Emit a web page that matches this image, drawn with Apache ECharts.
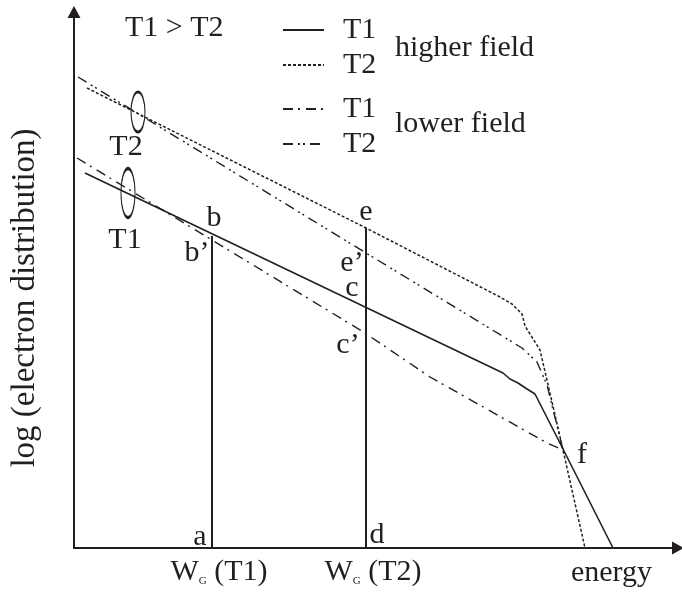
<!DOCTYPE html>
<html>
<head>
<meta charset="utf-8">
<script src="https://cdn.jsdelivr.net/npm/echarts@6/dist/echarts.min.js"></script>
<style>
  html, body { margin: 0; padding: 0; background: #fff; }
  #chart { width: 682px; height: 601px; }
</style>
</head>
<body>
<div id="chart"></div>
<script>
// curves (x = energy, y = log distribution, arbitrary units)
const t1High = [[11, 375], [429, 175], [436, 169], [444, 165], [453, 159], [461, 154], [489, 99], [539, 0]];
const t2High = [[13, 460], [292, 320], [426, 251], [438, 244], [448, 234], [451, 222], [466, 198], [473, 168], [489, 98], [511, 0]];
const t1Low = [[3, 390], [291, 215], [356, 171], [473, 105], [489, 98]];
const t2Low = [[4, 471], [292, 295], [448, 200], [463, 186], [473, 163], [489, 98]];

// W_G marks on the energy axis and their heights
const wgTicks = [138, 292];
const wgNames = ['T1', 'T2'];
const wgTops = [312, 320];

// ellipse centres (T2 group, T1 group)
const ellipseCenters = [[64, 436], [54, 355]];

// point letters and group labels
const pointLabels = [
  ['b', 140, 330], ['b\u2019', 123, 295], ['e', 292, 336], ['e\u2019', 278, 285],
  ['c', 278, 260], ['c\u2019', 274, 203], ['f', 508, 93], ['a', 126, 11],
  ['d', 303, 13], ['T2', 52, 401], ['T1', 51, 308]
];

const ink = '#231f20';
const serif = 'Liberation Serif';
const fs = 30;

const chart = echarts.init(document.getElementById('chart'));

const wgLines = wgTicks.map((x, i) => ({
  type: 'line',
  data: [[x, 0], [x, wgTops[i]]],
  symbol: 'none',
  silent: true,
  lineStyle: { color: ink, width: 2 }
}));

const legendBase = {
  orient: 'vertical', left: 282, padding: 0,
  itemWidth: 41, itemHeight: 14,
  formatter: n => n.split(' ')[0],
  itemStyle: { color: 'rgba(0,0,0,0)', borderColor: 'rgba(0,0,0,0)', borderWidth: 0 },
  textStyle: { fontFamily: serif, fontSize: fs, color: ink, padding: [0, 0, 0, 14] },
  selectedMode: false
};

chart.setOption({
  animation: false,
  grid: { left: 74, right: 4, top: 12, bottom: 53, outerBoundsMode: 'none', containLabel: false },
  xAxis: {
    type: 'value', min: 0, max: 604,
    splitLine: { show: false },
    axisTick: { show: false },
    axisLine: { lineStyle: { color: ink, width: 2 }, symbol: ['none', 'triangle'], symbolSize: [13, 12] },
    axisLabel: {
      customValues: wgTicks,
      margin: 9,
      formatter: v => '{w|W}{g|G}{w| (' + wgNames[wgTicks.indexOf(v)] + ')}',
      padding: [0, 0, 0, 14],
      rich: {
        w: { fontFamily: serif, fontSize: fs, color: ink },
        g: { fontFamily: serif, fontSize: 11, color: ink, verticalAlign: 'bottom' }
      }
    },
    name: 'energy',
    nameLocation: 'end',
    nameGap: -26,
    nameTextStyle: { fontFamily: serif, fontSize: fs, color: ink, align: 'right', verticalAlign: 'top', padding: [10, 0, 0, 0] }
  },
  yAxis: {
    type: 'value', min: 0, max: 536,
    splitLine: { show: false },
    axisTick: { show: false },
    axisLabel: { show: false },
    axisLine: { lineStyle: { color: ink, width: 2 }, symbol: ['none', 'triangle'], symbolSize: [13, 12] },
    name: 'log (electron distribution)',
    nameLocation: 'middle',
    nameGap: 32,
    nameTextStyle: { fontFamily: serif, fontSize: 33, color: ink, padding: [0, 36, 0, 0] }
  },
  legend: [
    Object.assign({ data: ['T1 higher', 'T2 higher'], top: 15, itemGap: 5 }, legendBase),
    Object.assign({ data: ['T1 lower', 'T2 lower'], top: 94, itemGap: 5 }, legendBase)
  ],
  graphic: [
    { type: 'text', left: 125, top: 13, style: { text: 'T1 > T2', font: fs + 'px ' + serif, fill: ink } },
    { type: 'text', left: 395, top: 33, style: { text: 'higher field', font: fs + 'px ' + serif, fill: ink } },
    { type: 'text', left: 395, top: 109, style: { text: 'lower field', font: fs + 'px ' + serif, fill: ink } }
  ],
  series: [
    { name: 'T1 higher', type: 'line', data: t1High, symbol: 'none', lineStyle: { color: ink, width: 1.6 }, itemStyle: { color: ink } },
    { name: 'T2 higher', type: 'line', data: t2High, symbol: 'none', lineStyle: { color: ink, width: 1.5, type: [3, 2] }, itemStyle: { color: ink } },
    { name: 'T1 lower', type: 'line', data: t1Low, symbol: 'none', lineStyle: { color: ink, width: 1.4, type: [10, 5, 2, 6] }, itemStyle: { color: ink } },
    { name: 'T2 lower', type: 'line', data: t2Low, symbol: 'none', lineStyle: { color: ink, width: 1.4, type: [10, 5, 2, 3, 2, 5] }, itemStyle: { color: ink } },
    ...wgLines,
    {
      type: 'scatter',
      data: ellipseCenters,
      symbol: 'circle',
      symbolSize: (v, p) => (p.dataIndex === 0 ? [14, 40] : [14, 49]),
      itemStyle: { color: 'rgba(0,0,0,0)', borderColor: ink, borderWidth: 1.8, opacity: 1 },
      silent: true
    },
    {
      type: 'scatter',
      data: pointLabels.map(d => [d[1], d[2], d[0]]),
      symbolSize: 1,
      itemStyle: { color: 'rgba(0,0,0,0)', opacity: 1 },
      label: {
        show: true, position: 'inside',
        formatter: p => p.data[2],
        fontFamily: serif, fontSize: fs, color: ink,
        textBorderWidth: 0, opacity: 1
      },
      silent: true
    }
  ]
});
</script>
</body>
</html>
